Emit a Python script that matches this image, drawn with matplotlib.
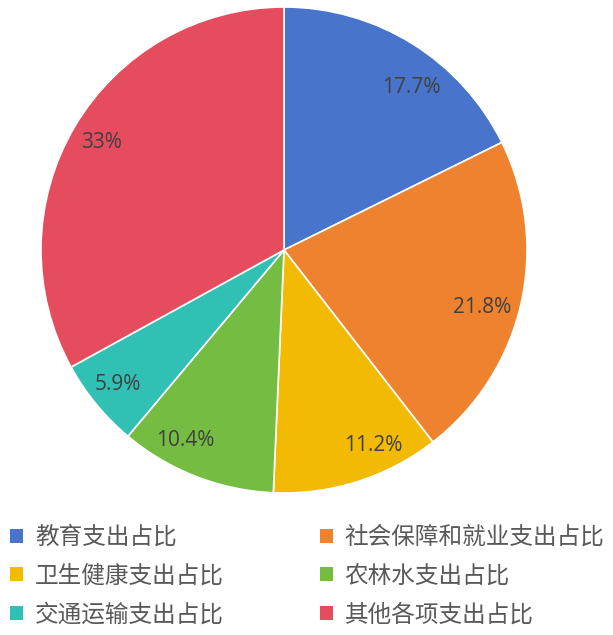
import matplotlib
matplotlib.use("Agg")
import matplotlib.pyplot as plt
from matplotlib.patches import Patch

categories = ["教育支出占比", "社会保障和就业支出占比", "卫生健康支出占比",
              "农林水支出占比", "交通运输支出占比", "其他各项支出占比"]
values = [17.7, 21.8, 11.2, 10.4, 5.9, 33.0]
labels = ["17.7%", "21.8%", "11.2%", "10.4%", "5.9%", "33%"]
colors = ["#4874CB", "#EE822F", "#F2BA02", "#75BD42", "#30C0B4", "#E54C5E"]
# label anchor positions (in pie radius units), as placed in the reference
label_pos = [(0.523, 0.667), (0.815, -0.238), (0.366, -0.806),
             (-0.407, -0.782), (-0.683, -0.555), (-0.753, 0.441)]

plt.rcParams['font.family'] = ['Noto Sans CJK SC', 'DejaVu Sans']

fig = plt.figure(figsize=(6.13, 6.35), dpi=100)
ax = fig.add_axes([41/613, (635-493)/635, 486/613, 486/635])
wedges, texts = ax.pie(values, colors=colors, startangle=90, counterclock=False,
                       labels=labels, labeldistance=0.86,
                       wedgeprops=dict(edgecolor="white", linewidth=1.2),
                       textprops=dict(fontsize=15, color="#404040", family=["Open Sans", "DejaVu Sans"]))
for t, p in zip(texts, label_pos):
    t.set_position(p)
    t.set_horizontalalignment("center")
    t.set_verticalalignment("center")
ax.set_xlim(-1, 1)
ax.set_ylim(-1, 1)
ax.set_aspect("equal")

order = [0, 2, 4, 1, 3, 5]
handles = [Patch(facecolor=colors[i], edgecolor="none") for i in order]
leg_labels = [categories[i] for i in order]
leg = fig.legend(handles, leg_labels, ncol=2, loc="upper left",
                 bbox_to_anchor=(10/613, 1 - 526/635), frameon=False,
                 fontsize=17, labelcolor="#595959",
                 handlelength=0.55, handleheight=0.55, handletextpad=0.5,
                 columnspacing=4.07, labelspacing=0.665, borderpad=0, borderaxespad=0)
fig.savefig("out.png", dpi=100)
